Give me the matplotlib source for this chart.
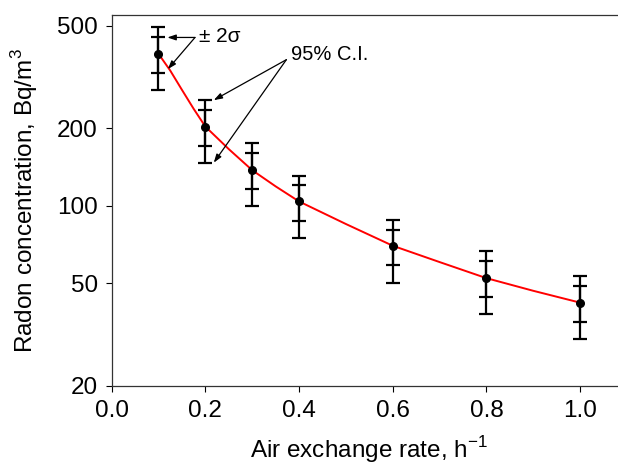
"""
Radon concentration vs air exchange rate, log y axis,
with +/-2 sigma and 95% C.I. error bars and a fitted red curve.
"""

import numpy as np
import matplotlib.pyplot as plt
from matplotlib.ticker import FixedLocator, FixedFormatter, NullLocator

plt.rcParams['font.family'] = ['Liberation Sans', 'DejaVu Sans']

# measured points
rate = [0.1, 0.2, 0.3, 0.4, 0.6, 0.8, 1.0]
radon = [389, 203, 137.5, 104, 70, 52.4, 42.1]
# inner bars (+/- 2 sigma)
sig_hi = [450, 235, 160, 120, 80.7, 60.9, 48.7]
sig_lo = [328, 170, 115.7, 87, 58.7, 44.1, 35.3]
# outer bars (95% C.I.)
ci_hi = [492, 257, 174.6, 131, 88.3, 66.5, 53.2]
ci_lo = [282, 146, 99.4, 75, 50.4, 37.9, 30.3]

# fitted curve
fit_x = [0.1, 0.125, 0.15, 0.175, 0.2, 0.25, 0.3, 0.35, 0.4, 0.5, 0.6, 0.7, 0.8, 0.9, 1.0]
fit_y = [389, 335, 282, 238, 203, 166, 137.5, 119, 104, 85, 70, 60.5, 52.4, 46.8, 42.1]

y_ticks = [20, 50, 100, 200, 500]
x_ticks = [0.0, 0.2, 0.4, 0.6, 0.8, 1.0]

fig = plt.figure(figsize=(6.18, 4.67), dpi=100)
ax = fig.add_axes([0.1806, 0.1735, 0.834, 0.7944])

rate = np.array(rate)
radon = np.array(radon)

ax.plot(fit_x, fit_y, color='#ff0000', linewidth=1.4, zorder=2)

ax.errorbar(rate, radon,
            yerr=[radon - np.array(ci_lo), np.array(ci_hi) - radon],
            fmt='none', ecolor='black', elinewidth=1.6, capsize=4.8, capthick=1.6, zorder=3)
ax.errorbar(rate, radon,
            yerr=[radon - np.array(sig_lo), np.array(sig_hi) - radon],
            fmt='none', ecolor='black', elinewidth=1.6, capsize=4.8, capthick=1.6, zorder=3)
ax.plot(rate, radon, 'o', color='black', markersize=5.5, zorder=4)

ax.set_yscale('log')
ax.set_xlim(0, 1.1)
ax.set_ylim(20, 550)
ax.yaxis.set_major_locator(FixedLocator(y_ticks))
ax.yaxis.set_major_formatter(FixedFormatter([str(v) for v in y_ticks]))
ax.yaxis.set_minor_locator(NullLocator())
ax.set_xticks(x_ticks)
ax.set_xticklabels([f'{v:.1f}' for v in x_ticks])

ax.tick_params(axis='both', direction='out', length=4, width=0.8, labelsize=17.5, colors='black')
ax.tick_params(axis='y', pad=6)
ax.tick_params(axis='x', pad=6)
for s in ax.spines.values():
    s.set_linewidth(0.9)
    s.set_color('#333333')

ax.set_xlabel('Air exchange rate, h$^{\\mathregular{-1}}$', fontsize=17.5, labelpad=9)
ax.set_ylabel('Radon concentration, Bq/m$^{\\mathregular{3}}$', fontsize=17.5, labelpad=12)

arrow = dict(arrowstyle='-|>,head_length=0.5,head_width=0.17', color='black', lw=0.9,
             shrinkA=0, shrinkB=0)

# +/- 2 sigma labels
ax.annotate('', xy=(0.119, 450), xytext=(0.178, 450), arrowprops=arrow)
ax.annotate('', xy=(0.120, 339), xytext=(0.178, 450), arrowprops=arrow)
ax.text(0.186, 453, '± 2σ', fontsize=15, ha='left', va='center')

# 95% C.I. labels
ax.annotate('', xy=(0.218, 257), xytext=(0.373, 369), arrowprops=arrow)
ax.annotate('', xy=(0.218, 147), xytext=(0.373, 369), arrowprops=arrow)
ax.text(0.383, 386, '95% C.I.', fontsize=14.5, ha='left', va='center')

fig.savefig('out.png', dpi=100)
